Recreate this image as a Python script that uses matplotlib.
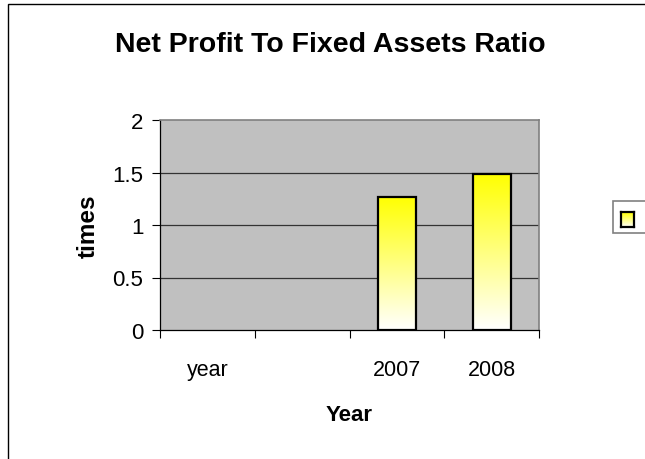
import matplotlib
matplotlib.use("Agg")
import matplotlib.pyplot as plt
from matplotlib.patches import Rectangle
import numpy as np

plt.rcParams["font.family"] = ["Liberation Sans", "DejaVu Sans"]

# dados do gráfico
categorias = ["year", "", "2007", "2008"]
valores = [np.nan, np.nan, 1.27, 1.49]
y_ticks = [0, 0.5, 1, 1.5, 2]
y_tick_labels = ["0", "0.5", "1", "1.5", "2"]

fig = plt.figure(figsize=(6.45, 4.6), dpi=100)
W, H = 645, 460

# moldura externa da área do gráfico
fig.patches.append(Rectangle((8 / W, -0.1), 1.2, (455 / H) + 0.1,
                             transform=fig.transFigure, fill=False,
                             edgecolor="black", linewidth=1.0, zorder=-1))

ax = fig.add_axes([160 / W, (H - 331) / H, 379 / W, 210 / H])
ax.set_facecolor("#C0C0C0")

x = np.arange(len(categorias))
largura = 0.4

# gradiente amarelo -> branco
grad = np.linspace(0, 1, 256).reshape(-1, 1)
cores = np.ones((256, 1, 3))
cores[..., 2] = 1.0 - grad  # topo amarelo, base branca

for xi, v in zip(x, valores):
    if np.isnan(v):
        continue
    ax.imshow(cores, extent=(xi - largura / 2, xi + largura / 2, 0, v),
              origin="lower", aspect="auto", zorder=3)
    ax.add_patch(Rectangle((xi - largura / 2, 0), largura, v, fill=False,
                           edgecolor="black", linewidth=1.6, zorder=4))

ax.set_xlim(-0.5, len(categorias) - 0.5)
ax.set_ylim(0, 2)

# linhas de grade
for t in y_ticks[1:-1]:
    ax.axhline(t, color="#333333", linewidth=0.9, zorder=1)

ax.set_yticks(y_ticks)
ax.set_yticklabels(y_tick_labels, fontsize=16)
ax.set_xticks(np.arange(len(categorias) + 1) - 0.5, minor=False)
ax.set_xticklabels([])
ax.set_xticks(x, minor=True)
ax.set_xticklabels(categorias, minor=True, fontsize=15.5)
ax.tick_params(axis="x", which="major", length=6, direction="out", width=0.8)
ax.tick_params(axis="x", which="minor", length=0, pad=21)
ax.tick_params(axis="y", length=6, direction="out", width=0.8, pad=6)

for lado in ["top", "right"]:
    ax.spines[lado].set_color("#808080")
    ax.spines[lado].set_linewidth(1.2)
for lado in ["left", "bottom"]:
    ax.spines[lado].set_color("black")
    ax.spines[lado].set_linewidth(0.9)

ax.set_xlabel("Year", fontsize=16, fontweight="bold", labelpad=17)
ax.set_ylabel("times", fontsize=17.5, fontweight="bold", labelpad=9)

fig.text(330 / W, 1 - 45 / H, "Net Profit To Fixed Assets Ratio",
         ha="center", va="center", fontsize=20.5, fontweight="bold")

# legenda
fig.patches.append(Rectangle((613 / W, (H - 234) / H), 0.2, 32 / H,
                             transform=fig.transFigure, facecolor="white",
                             edgecolor="#808080", linewidth=1.2, zorder=-1))
ax_leg = fig.add_axes([621 / W, (H - 228) / H, 13 / W, 15 / H])
ax_leg.set_zorder(2)
ax_leg.imshow(cores, extent=(0, 1, 0, 1), origin="lower", aspect="auto")
ax_leg.set_xticks([])
ax_leg.set_yticks([])
for s in ax_leg.spines.values():
    s.set_linewidth(1.6)
    s.set_color("black")

fig.savefig("out.png", dpi=100)
